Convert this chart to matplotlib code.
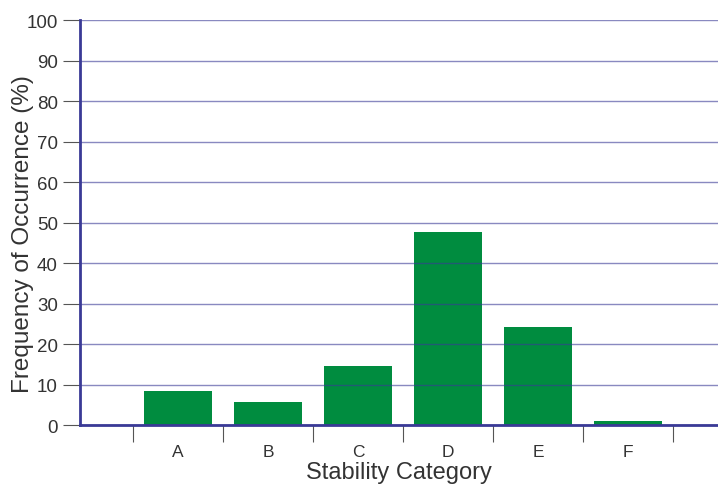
import matplotlib.pyplot as plt

categories = ['A', 'B', 'C', 'D', 'E', 'F']
frequency = [8.3, 5.8, 14.6, 47.6, 24.1, 1.0]

plt.rcParams['font.family'] = ['Liberation Sans', 'DejaVu Sans']

fig = plt.figure(figsize=(7.18, 4.85), dpi=100)
ax = fig.add_axes([0.1114, 0.1216, 0.8886, 0.8351])

green = '#008C3F'
navy = '#3A3A96'

x = list(range(len(categories)))
ax.bar(x, frequency, width=0.75, color=green, zorder=1)

ax.set_ylim(0, 100)
ax.set_xlim(-1.09, 6.0)
ax.set_yticks(range(0, 101, 10))
ax.yaxis.grid(True, color=navy, linewidth=1, alpha=0.6, zorder=3)
ax.set_axisbelow(False)

# category boundaries carry the tick marks, labels sit in the middle
ax.set_xticks([i - 0.5 for i in range(len(categories) + 1)])
ax.set_xticklabels([])
ax.set_xticks(x, minor=True)
ax.set_xticklabels(categories, minor=True, fontsize=12.5, color='#333333')
ax.tick_params(axis='x', which='major', length=12, width=0.8, color='#555555', direction='out')
ax.tick_params(axis='x', which='minor', length=0, pad=14)
ax.tick_params(axis='y', length=12, width=0.8, color='#555555', labelsize=13.5,
               labelcolor='#333333', pad=4)

for side in ['top', 'right']:
    ax.spines[side].set_visible(False)
for side in ['left', 'bottom']:
    ax.spines[side].set_color(navy)
    ax.spines[side].set_linewidth(2)
    ax.spines[side].set_zorder(4)

ax.set_ylabel('Frequency of Occurrence (%)', fontsize=17.5, color='#333333')
ax.yaxis.set_label_coords(-0.072, 0.474)
ax.set_xlabel('Stability Category', fontsize=17, color='#333333')
ax.xaxis.set_label_coords(0.5, -0.088)

fig.savefig('out.png', dpi=100)
